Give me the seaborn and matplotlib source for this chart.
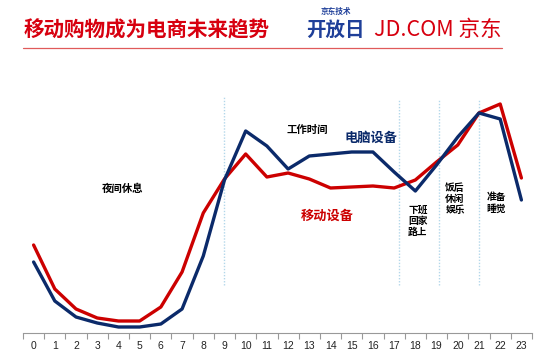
import pandas as pd
import matplotlib.pyplot as plt
import seaborn as sns
from matplotlib.ticker import MultipleLocator, FixedLocator

# hourly traffic share (relative units)
hours = list(range(24))
pc_values = [71, 32, 16, 10, 6, 6, 9, 24, 77, 153, 202, 187,
             164, 177, 179, 181, 181, 161, 142, 168, 196, 220, 214, 133]
mobile_values = [88, 44, 24, 15, 12, 12, 26, 61, 120, 154, 179, 156,
                 160, 154, 145, 146, 147, 145, 153, 171, 188, 220, 229, 155]
series_names = ['电脑设备', '移动设备']
divider_hours = [9, 17.25, 19.1, 21]

RED = '#CC0000'
NAVY = '#0B2A6A'

sns.set_theme(style='white')
plt.rcParams['font.family'] = ['Noto Sans CJK SC', 'DejaVu Sans']

df = pd.DataFrame({
    'hour': hours * 2,
    'value': pc_values + mobile_values,
    'device': [series_names[0]] * 24 + [series_names[1]] * 24,
})

fig = plt.figure(figsize=(5.5, 3.64), dpi=100)
ax = fig.add_axes([23 / 550, 31 / 364, 509 / 550, 238 / 364])

for h in divider_hours:
    top = 0.995 if h == 9 else 0.98
    ax.axvline(h, ymin=0.2, ymax=top, color='#B3D7EA', lw=1, ls=(0, (1, 1.2)), zorder=0)

sns.lineplot(data=df, x='hour', y='value', hue='device', hue_order=series_names[::-1],
             palette={series_names[0]: NAVY, series_names[1]: RED},
             linewidth=2.4, legend=False, ax=ax)

ax.set_xlim(-0.5, 23.5)
ax.set_ylim(0, 238)
ax.set_xlabel('')
ax.set_ylabel('')
ax.set_yticks([])
ax.xaxis.set_major_locator(FixedLocator(hours))
ax.xaxis.set_minor_locator(MultipleLocator(1, offset=0.5))
ax.tick_params(axis='x', which='major', length=0, labelsize=7.5, pad=6, colors='#222222')
ax.tick_params(axis='x', which='minor', length=4, width=0.8, color='#999999', bottom=True)
for lab in ax.get_xticklabels():
    lab.set_family(['Liberation Sans', 'DejaVu Sans'])
for side in ['top', 'left', 'right']:
    ax.spines[side].set_visible(False)
ax.spines['bottom'].set_color('#999999')
ax.spines['bottom'].set_linewidth(0.8)

# annotations
def note(x_px, y_px, s, **kw):
    fig.text(x_px / 550, 1 - y_px / 364, s, ha='center', va='center', **kw)

note(123, 189, '夜间休息', fontsize=7.5, fontweight='bold', color='black')
note(307, 130, '工作时间', fontsize=7.5, fontweight='bold', color='black')
note(371, 138, '电脑设备', fontsize=9.5, fontweight='bold', color=NAVY)
note(327, 216, '移动设备', fontsize=9.5, fontweight='bold', color=RED)
note(418, 221, '下班\n回家\n路上', fontsize=7, fontweight='bold', color='black', linespacing=1.15)
note(455, 199, '饭后\n休闲\n娱乐', fontsize=7, fontweight='bold', color='black', linespacing=1.15)
note(496, 203, '准备\n睡觉', fontsize=7, fontweight='bold', color='black', linespacing=1.15)

# header
fig.text(24 / 550, 1 - 30 / 364, '移动购物成为电商未来趋势', ha='left', va='center',
         fontsize=14.8, fontweight='bold', color='#D7000F')
fig.add_artist(plt.Line2D([23 / 550, 502 / 550], [1 - 47.5 / 364] * 2,
                          transform=fig.transFigure, color='#E05A5A', lw=0.9))
fig.text(336 / 550, 1 - 11 / 364, '京东技术', ha='center', va='center',
         fontsize=5.5, fontweight='bold', color='#1F3F99')
fig.text(335 / 550, 1 - 30 / 364, '开放日', ha='center', va='center',
         fontsize=14, fontweight='bold', color='#1F3F99')
fig.text(374 / 550, 1 - 30 / 364, 'JD.COM 京东', ha='left', va='center',
         fontsize=15.5, color='#D7000F')

fig.savefig('out.png', dpi=100)
